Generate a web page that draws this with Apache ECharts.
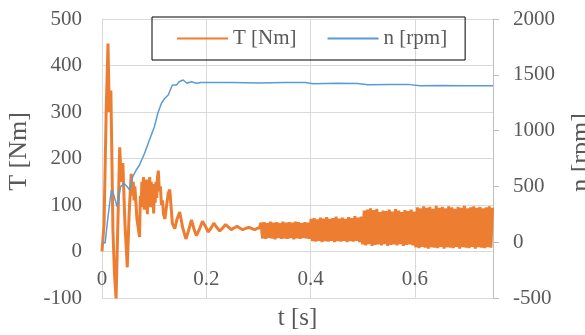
<!DOCTYPE html>
<html>
<head>
<meta charset="utf-8">
<script src="https://cdn.jsdelivr.net/npm/echarts@6/dist/echarts.min.js"></script>
<style>
html,body{margin:0;padding:0;background:#fff;}
#chart{width:585px;height:335px;}
</style>
</head>
<body>
<div id="chart"></div>
<script>
// ---- data ----
var legendNames = ['T [Nm]', 'n [rpm]'];
var xTickLabels = ['0', '0.2', '0.4', '0.6'];

// torque start-up transient [t (s), T (Nm)]
var torqueStart = [
  [0,0],[0.004,60],[0.008,300],[0.0115,447],[0.014,300],[0.017,346],[0.019,200],[0.021,45],
  [0.024,-50],[0.027,-101],[0.030,40],[0.034,224],[0.037,150],[0.040,190],[0.044,60],[0.0485,-34],
  [0.052,80],[0.056,167],[0.058,120],[0.060,150],[0.0615,110],[0.063,140],[0.067,70],[0.072,31],
  [0.0735,120],[0.075,95],[0.0765,150],[0.078,110],[0.0795,160],[0.081,90],[0.0825,140],[0.084,100],
  [0.0855,155],[0.087,80],[0.0885,150],[0.090,105],[0.0915,160],[0.093,95],[0.0945,150],[0.096,110],
  [0.0975,145],[0.099,82],[0.1005,130],[0.102,105],[0.1035,150],[0.105,115],[0.1065,160],[0.108,174],
  [0.110,130],[0.112,140],[0.114,100],[0.116,110],[0.118,80],[0.1206,70],[0.124,100],[0.127,125],
  [0.130,133]
];
// torque decaying oscillation
var torqueSettle = [
  [0.135,60],[0.1397,49],[0.144,70],[0.149,85],[0.155,50],[0.161,27],[0.166,45],[0.1716,68],
  [0.176,50],[0.181,34],[0.187,48],[0.1927,65],[0.198,55],[0.2035,42],[0.209,50],[0.2145,61],
  [0.220,52],[0.2258,44],[0.231,50],[0.237,58],[0.243,52],[0.248,47],[0.254,51],[0.259,54],
  [0.265,50],[0.270,47],[0.276,50],[0.282,52],[0.288,49],[0.293,47],[0.298,50],[0.302,51]
];
// torque ripple, 0.30 - 0.40 s
var torqueRippleA = [
  [0.305,62],[0.308,28],[0.311,63],[0.314,27],[0.317,61],[0.320,29],[0.323,64],[0.326,28],
  [0.329,62],[0.332,26],[0.335,63],[0.338,29],[0.341,61],[0.344,27],[0.347,64],[0.350,28],
  [0.353,62],[0.356,27],[0.359,63],[0.362,29],[0.365,62],[0.368,26],[0.371,64],[0.374,28],
  [0.377,63],[0.380,27],[0.383,61],[0.386,29],[0.389,63],[0.392,28],[0.395,62],[0.398,27]
];
// torque ripple, 0.40 - 0.50 s
var torqueRippleB = [
  [0.401,70],[0.404,22],[0.407,72],[0.410,21],[0.413,69],[0.416,23],[0.419,73],[0.422,20],
  [0.425,71],[0.428,22],[0.431,74],[0.434,21],[0.437,70],[0.440,23],[0.443,72],[0.446,20],
  [0.449,75],[0.452,22],[0.455,71],[0.458,21],[0.461,73],[0.464,23],[0.467,70],[0.470,20],
  [0.473,74],[0.476,22],[0.479,72],[0.482,21],[0.485,76],[0.488,23],[0.491,73],[0.494,20],
  [0.497,75]
];
// torque ripple, 0.50 - 0.60 s
var torqueRippleC = [
  [0.500,15],[0.503,88],[0.506,13],[0.509,90],[0.512,16],[0.515,93],[0.518,12],[0.521,89],
  [0.524,14],[0.527,92],[0.530,15],[0.533,85],[0.536,13],[0.539,88],[0.542,16],[0.545,87],
  [0.548,12],[0.551,90],[0.554,14],[0.557,86],[0.560,15],[0.563,91],[0.566,13],[0.569,88],
  [0.572,16],[0.575,85],[0.578,12],[0.581,89],[0.584,14],[0.587,87],[0.590,15],[0.593,90],
  [0.596,13],[0.599,86]
];
// torque ripple, 0.60 - 0.75 s
var torqueRippleD = [
  [0.602,9],[0.605,95],[0.608,7],[0.611,93],[0.614,10],[0.617,97],[0.620,8],[0.623,94],
  [0.626,6],[0.629,96],[0.632,9],[0.635,92],[0.638,8],[0.641,98],[0.644,7],[0.647,94],
  [0.650,10],[0.653,96],[0.656,6],[0.659,93],[0.662,9],[0.665,97],[0.668,8],[0.671,95],
  [0.674,7],[0.677,92],[0.680,10],[0.683,96],[0.686,6],[0.689,94],[0.692,9],[0.695,98],
  [0.698,8],[0.701,93],[0.704,7],[0.707,95],[0.710,10],[0.713,97],[0.716,6],[0.719,94],
  [0.722,9],[0.725,96],[0.728,8],[0.731,93],[0.734,7],[0.737,95],[0.740,9],[0.743,97],
  [0.746,8],[0.749,94]
];
// speed [t (s), n (rpm)]
var speedData = [
  [0,0],[0.002,5],[0.006,-8],[0.0115,228],[0.018,468],[0.0216,438],[0.029,318],[0.0357,497],
  [0.042,528],[0.0485,497],[0.053,468],[0.059,587],[0.0657,647],[0.072,692],[0.0817,797],
  [0.091,916],[0.1005,1035],[0.107,1155],[0.114,1245],[0.1206,1290],[0.127,1319],[0.135,1409],
  [0.143,1409],[0.148,1438],[0.1556,1453],[0.163,1424],[0.1716,1438],[0.181,1424],[0.19,1432],
  [0.20,1430],[0.25,1430],[0.30,1426],[0.35,1432],[0.39,1432],[0.405,1420],[0.45,1424],
  [0.49,1422],[0.51,1410],[0.55,1414],[0.59,1412],[0.61,1402],[0.65,1404],[0.70,1402],[0.75,1402]
];

var torqueData = [].concat(torqueStart, torqueSettle, torqueRippleA, torqueRippleB, torqueRippleC, torqueRippleD);

var FONT = 'Liberation Serif';
var GREY_TXT = '#595959';
var GRID = '#d9d9d9';
function plain(v) { return String(v); }

var chart = echarts.init(document.getElementById('chart'), null, {renderer: 'canvas'});
chart.setOption({
  animation: false,
  backgroundColor: '#fff',
  grid: {left: 102, right: 92, top: 19, bottom: 37, containLabel: false, outerBoundsMode: 'none'},
  legend: {
    data: legendNames,
    left: 152, top: 17,
    padding: [11, 18, 11, 25],
    itemGap: 31,
    itemWidth: 51, itemHeight: 2,
    icon: 'rect',
    borderColor: '#000', borderWidth: 1,
    textStyle: {fontFamily: FONT, fontSize: 21, color: GREY_TXT}
  },
  xAxis: {
    type: 'value', min: 0, max: 0.75, interval: 0.2, position: 'bottom',
    name: 't [s]', nameLocation: 'middle', nameGap: 8,
    nameTextStyle: {fontFamily: FONT, fontSize: 25, color: GREY_TXT, verticalAlign: 'top'},
    axisLine: {show: true, onZero: false, lineStyle: {color: GRID, width: 1}},
    axisTick: {show: false},
    axisLabel: {
      inside: true,
      fontFamily: FONT, fontSize: 21, color: GREY_TXT, margin: 8, showMaxLabel: false,
      formatter: function (v) {
        var i = Math.round(v / 0.2);
        return (Math.abs(v - i * 0.2) < 1e-6 && xTickLabels[i] !== undefined) ? xTickLabels[i] : '';
      }
    },
    splitLine: {show: true, lineStyle: {color: GRID, width: 1}}
  },
  yAxis: [{
    type: 'value', min: -100, max: 500, interval: 100, position: 'left',
    name: 'T [Nm]', nameLocation: 'middle', nameGap: 68, nameRotate: 90,
    nameTextStyle: {fontFamily: FONT, fontSize: 26, color: GREY_TXT, padding: [0, 0, 0, 14]},
    axisLine: {show: true, onZero: false, lineStyle: {color: GRID, width: 1}},
    axisTick: {show: false},
    axisLabel: {fontFamily: FONT, fontSize: 21, color: GREY_TXT, margin: 20, formatter: plain},
    splitLine: {show: true, lineStyle: {color: GRID, width: 1}}
  }, {
    type: 'value', min: -500, max: 2000, interval: 500, position: 'right',
    name: 'n [rpm]', nameLocation: 'middle', nameGap: 75, nameRotate: 90,
    nameTextStyle: {fontFamily: FONT, fontSize: 26, color: GREY_TXT, padding: [0, 0, 0, 12]},
    axisLine: {show: true, onZero: false, lineStyle: {color: '#bfbfbf', width: 1}},
    axisTick: {show: true, inside: false, length: 6, lineStyle: {color: '#bfbfbf'}},
    axisLabel: {fontFamily: FONT, fontSize: 21, color: GREY_TXT, margin: 20, formatter: plain},
    splitLine: {show: false}
  }],
  series: [{
    name: legendNames[0], type: 'line', yAxisIndex: 0,
    data: torqueData, showSymbol: false, symbol: 'none',
    lineStyle: {color: '#ED7D31', width: 3}, itemStyle: {color: '#ED7D31'}
  }, {
    name: legendNames[1], type: 'line', yAxisIndex: 1,
    data: speedData, showSymbol: false, symbol: 'none',
    lineStyle: {color: '#5B9BD5', width: 1.5}, itemStyle: {color: '#5B9BD5'}
  }]
});
</script>
</body>
</html>
